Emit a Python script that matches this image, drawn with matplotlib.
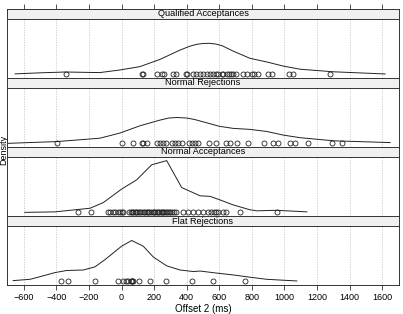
import numpy as np
import matplotlib.pyplot as plt

plt.rcParams["font.family"] = ["Liberation Sans", "DejaVu Sans"]

# ---------- Data ----------
panel_names = ["Qualified Acceptances", "Normal Rejections",
               "Normal Acceptances", "Flat Rejections"]

# density curves (relative density, Normal Acceptances peak = 1)
qa_x = [-654, -500, -344, -200, -133, -10, 113, 236, 359, 420, 460, 500, 540,
        580, 620, 685, 789, 892, 993, 1096, 1301, 1619]
qa_y = [0.01, 0.03, 0.046, 0.038, 0.035, 0.085, 0.15, 0.29, 0.47, 0.545, 0.58,
        0.597, 0.60, 0.585, 0.55, 0.45, 0.31, 0.24, 0.16, 0.10, 0.05, 0.008]

nr_x = [-704, -397, -133, -10, 113, 236, 290, 340, 400, 450, 520, 600, 685,
        789, 892, 993, 1096, 1301, 1650]
nr_y = [0.0, 0.035, 0.10, 0.20, 0.34, 0.45, 0.49, 0.50, 0.49, 0.46, 0.40,
        0.33, 0.29, 0.27, 0.23, 0.16, 0.11, 0.05, 0.015]

na_x = [-594, -409, -194, -112, 0, 93, 185, 277, 369, 482, 543, 605, 685, 789,
        830, 953, 1138]
na_y = [0.0, 0.01, 0.08, 0.19, 0.45, 0.63, 0.92, 1.0, 0.48, 0.32, 0.31, 0.24,
        0.145, 0.05, 0.03, 0.04, 0.01]

fr_x = [-666, -563, -502, -409, -338, -235, -164, -102, 0, 62, 133, 195, 277,
        359, 441, 482, 584, 685, 789, 892, 1076]
fr_y = [0.015, 0.04, 0.09, 0.17, 0.21, 0.22, 0.28, 0.42, 0.68, 0.79, 0.68,
        0.47, 0.30, 0.22, 0.19, 0.20, 0.16, 0.125, 0.08, 0.04, 0.008]

# raw observations (Offset 2, ms)
qa_pts = [-344, 124, 130, 216, 246, 262, 318, 334, 396, 400, 441, 457, 482, 502,
          527, 543, 564, 580, 594, 615, 625, 646, 662, 674, 687, 703, 744, 768,
          800, 814, 840, 898, 924, 1027, 1055, 1281]
nr_pts = [-395, 4, 72, 124, 133, 154, 216, 236, 256, 271, 308, 328, 349, 369,
          414, 435, 451, 471, 539, 580, 642, 666, 707, 775, 877, 932, 959, 1035,
          1066, 1148, 1295, 1353]
na_pts = [-270, -190, -82, -70, -55, -40, -25, -10, 0, 10, 45, 55, 62, 70, 80,
          88, 95, 105, 115, 125, 135, 145, 155, 160, 170, 180, 190, 200, 205,
          215, 225, 232, 240, 248, 255, 262, 270, 280, 290, 300, 310, 320, 335,
          380, 410, 440, 470, 500, 530, 550, 565, 580, 595, 620, 640, 725, 955]
fr_pts = [-372, -332, -164, -20, 10, 27, 41, 58, 62, 66, 72, 109, 175, 271,
          435, 564, 758]

curves = [(qa_x, qa_y, qa_pts), (nr_x, nr_y, nr_pts),
          (na_x, na_y, na_pts), (fr_x, fr_y, fr_pts)]

ticks = np.arange(-600, 1601, 200)

# ---------- Figure ----------
W, H = 403, 314
fig = plt.figure(figsize=(W / 100, H / 100), dpi=100)

left, right = 7, 399
block_top, strip_h, panel_h = 9, 10, 59
frame_col = "#333333"

def fr(px_left, px_top, px_w, px_h):
    return [px_left / W, 1 - (px_top + px_h) / H, px_w / W, px_h / H]

for i, (name, (cx, cy, pts)) in enumerate(zip(panel_names, curves)):
    top = block_top + i * (strip_h + panel_h)

    # strip
    sax = fig.add_axes(fr(left, top, right - left, strip_h))
    sax.set_facecolor("#f0f0f0")
    sax.set_xticks([])
    sax.set_yticks([])
    for s in sax.spines.values():
        s.set_color(frame_col)
        s.set_linewidth(0.7)
    sax.text(0.5, 0.5, name, ha="center", va="center", fontsize=6.6,
             transform=sax.transAxes)
    if i == 0:
        sax.set_xlim(-704, 1704)
        sax.set_xticks(ticks)
        sax.tick_params(axis="x", top=True, bottom=False, labeltop=False,
                        labelbottom=False, direction="out", length=3.5,
                        width=0.6, color=frame_col)

    # panel
    ax = fig.add_axes(fr(left, top + strip_h, right - left, panel_h))
    ax.set_xlim(-704, 1704)
    ax.set_ylim(-0.07, 1.07)
    for t in ticks:
        ax.axvline(t, color="#c8c8c8", linestyle=(0, (1.5, 1.5)), linewidth=0.6, zorder=0)
    ax.plot(cx, cy, color="#222222", linewidth=0.7)
    ax.plot(pts, np.zeros(len(pts)), linestyle="none", marker="o",
            markersize=3.6, markerfacecolor="none", markeredgecolor="#222222",
            markeredgewidth=0.6)
    ax.set_yticks([])
    for s in ax.spines.values():
        s.set_color(frame_col)
        s.set_linewidth(0.7)
    if i == len(panel_names) - 1:
        ax.set_xticks(ticks)
        ax.tick_params(axis="x", direction="out", length=3.5, width=0.6,
                       color=frame_col, labelsize=6.5, pad=2)
    else:
        ax.set_xticks([])

fig.text(4 / W, 1 - 150 / H, "Density", rotation=90, ha="center",
         va="center", fontsize=6.5)
fig.text(203 / W, 1 - 309 / H, "Offset 2 (ms)", ha="center", va="center",
         fontsize=7)

fig.savefig("out.png", dpi=100)
